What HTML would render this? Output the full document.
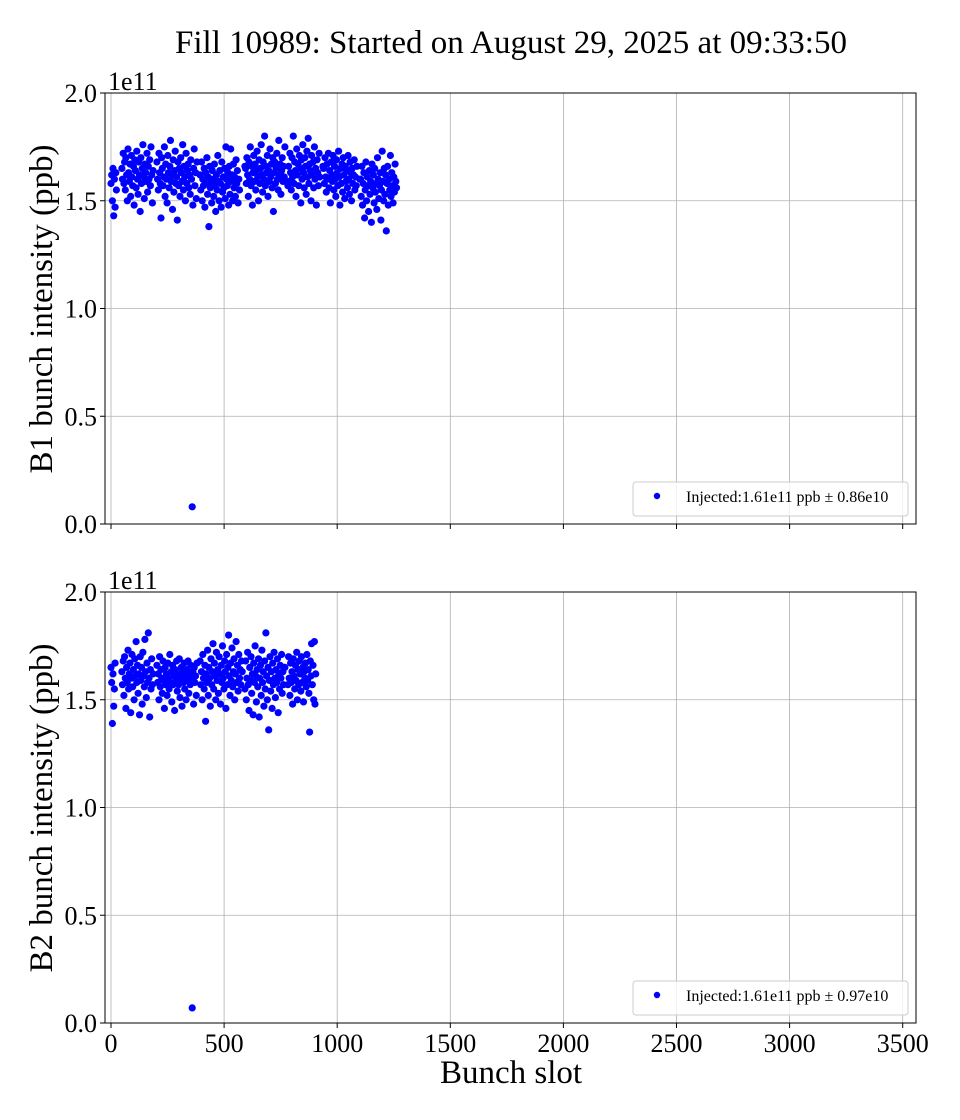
<!DOCTYPE html>
<html><head><meta charset="utf-8"><style>
body{margin:0;background:#fff;}
svg{display:block;font-family:"Liberation Serif",serif;}
</style></head><body>
<svg id="chart" width="960" height="1120" viewBox="0 0 960 1120">
<text x="511" y="53" text-anchor="middle" font-size="33">Fill 10989: Started on August 29, 2025 at 09:33:50</text>
<g id="p1"></g>
<g id="p2"></g>
<text x="511" y="1083" text-anchor="middle" font-size="33">Bunch slot</text>
</svg>
<script>
const xTicks=[0,500,1000,1500,2000,2500,3000,3500];
const yTicks=[0,50,100,150,200];
const yTickLabels=["0.0","0.5","1.0","1.5","2.0"];
// train definitions (slot start, slot end)
const b1TrainStart=[0,48,203,394,592,782,937,1100];
const b1TrainEnd=[24,186,380,570,770,924,1087,1262];
const b2TrainStart=[0,48,203,394,592,782];
const b2TrainEnd=[18,186,380,580,770,910];
// intensities in units of 1e9 ppb
const b1Values=[158,162,150,165,143,160,147,163,155,
165,160,172,158,168,155,170,162,150,174,163,159,167,152,171,161,157,166,148,169,164,156,173,160,153,168,162,145,170,158,165,176,161,151,167,163,159,172,154,166,160,169,157,175,162,149,164,
168,160,155,172,163,158,142,170,165,157,161,175,152,167,160,149,171,163,156,166,178,159,162,146,169,154,164,173,158,161,141,168,157,165,152,170,163,159,176,155,166,161,150,172,158,164,167,156,162,153,169,160,8,148,165,174,157,163,151,168,
162,155,168,150,160,157,165,147,163,158,170,153,161,138,166,156,159,149,164,160,152,167,157,145,162,155,171,159,150,164,158,147,168,154,161,156,165,151,175,160,157,163,148,166,153,174,159,162,150,167,156,161,152,169,158,164,149,160,155,166,
165,158,170,162,152,168,160,175,157,166,148,163,171,159,167,155,164,173,161,150,169,158,165,176,162,154,168,160,180,157,166,163,171,152,164,159,174,161,167,156,170,145,163,168,158,165,172,160,155,178,162,167,153,164,170,159,166,161,175,157,
166,159,172,163,155,170,161,180,158,168,164,152,174,162,167,157,171,165,149,169,160,176,163,156,170,166,153,173,161,179,158,167,164,150,171,162,168,156,175,160,165,148,169,163,157,172,161,166,
165,158,170,161,154,167,160,172,156,164,149,168,162,159,171,155,166,160,152,169,163,157,173,161,148,165,158,167,154,170,162,151,166,159,164,156,171,160,153,168,163,150,165,158,162,169,155,161,157,166,160,
160,152,166,148,158,163,142,155,168,150,161,157,145,164,153,159,140,167,156,162,149,165,154,158,146,170,160,151,157,163,141,155,173,159,150,165,153,162,136,158,166,148,160,155,171,152,163,157,149,161,154,167,159,156,164];
const b2Values=[165,158,139,162,147,155,167,
163,157,168,152,170,160,146,165,158,173,155,162,167,144,160,171,156,164,150,169,161,177,158,166,153,162,143,170,159,165,148,172,161,156,178,163,151,167,158,181,160,142,164,155,169,157,162,
166,158,162,150,170,156,164,160,153,168,159,146,165,157,162,152,167,160,155,171,158,163,149,166,157,161,145,164,159,168,154,162,157,169,151,160,165,147,163,158,167,155,161,150,164,159,168,153,162,157,166,160,7,163,148,165,158,161,152,167,
168,157,163,150,171,160,155,166,140,162,158,173,152,165,160,147,169,157,163,176,155,167,161,150,172,159,164,153,170,162,148,166,158,175,160,155,168,163,146,171,157,165,180,161,152,167,159,174,156,163,169,150,162,177,158,166,154,171,160,164,157,168,
163,155,168,150,160,172,157,145,165,159,170,153,162,143,167,158,175,161,149,164,156,169,142,160,166,152,173,158,163,147,168,155,181,161,150,165,136,159,170,154,163,146,167,157,172,160,151,164,158,169,144,162,155,166,160,171,153,163,157,165,
165,157,170,160,152,167,158,163,148,169,161,155,166,159,172,150,164,157,168,162,154,170,158,165,149,163,160,167,156,171,159,164,153,135,168,161,176,157,166,150,177,148,162];
const b1Legend="Injected:1.61e11 ppb \u00b1 0.86e10";
const b2Legend="Injected:1.61e11 ppb \u00b1 0.97e10";

const NS="http://www.w3.org/2000/svg";
const L=105,R=916;
function xs(s){return 111+s*0.2262;}
function mk(tag,attrs,parent){const e=document.createElementNS(NS,tag);for(const k in attrs)e.setAttribute(k,attrs[k]);parent.appendChild(e);return e;}

function panel(g,top,starts,ends,values,ylabel,legend,showX,pfx){
  const bot=top+431;
  const ys=v=>bot-v/200*431;
  for(const t of xTicks){
    const ln=mk('line',{x1:xs(t),x2:xs(t),y1:top,y2:bot,stroke:'#b0b0b0','stroke-width':0.8},g);
    
    
    const tk=mk('line',{x1:xs(t),x2:xs(t),y1:bot,y2:bot+5,stroke:'#000','stroke-width':1},g);
    
    
    if(showX){
      const tx=mk('text',{x:xs(t),y:bot+29,'text-anchor':'middle','font-size':26},g);
      tx.textContent=t;
      
      
    }
  }
  yTicks.forEach((t,i)=>{
    const ln=mk('line',{x1:L,x2:R,y1:ys(t),y2:ys(t),stroke:'#b0b0b0','stroke-width':0.8},g);
    
    
    const tk=mk('line',{x1:L-5,x2:L,y1:ys(t),y2:ys(t),stroke:'#000','stroke-width':1},g);
    
    
    const tx=mk('text',{x:L-8,y:ys(t)+9,'text-anchor':'end','font-size':26},g);
    tx.textContent=yTickLabels[i];
    
    
  });
  const off=mk('text',{x:108,y:top-3,'font-size':26},g);
  off.textContent='1e11';
  
  
  const yl=mk('text',{x:0,y:0,'text-anchor':'middle','font-size':33,transform:`translate(52,${top+216}) rotate(-90)`},g);
  yl.textContent=ylabel;
  
  
  let idx=0;
  for(let t=0;t<starts.length;t++){
    for(let s=starts[t];s<=ends[t]&&idx<values.length;s+=3){
      const c=mk('circle',{cx:xs(s).toFixed(1),cy:ys(values[idx]).toFixed(1),r:3.6,fill:'#0000ff'},g);
      
      
      idx++;
    }
  }
  const fr=mk('rect',{x:L,y:top,width:R-L,height:431,fill:'none',stroke:'#000','stroke-width':1},g);
  
  
  const lg=mk('g',{},g);
  
  
  mk('rect',{x:633,y:bot-42,width:275,height:34,rx:3,fill:'#fff','fill-opacity':0.8,stroke:'#ccc','stroke-width':1},lg);
  mk('circle',{cx:657,cy:bot-28,r:3.2,fill:'#0000ff'},lg);
  const lt=mk('text',{x:686,y:bot-22,'font-size':16},lg);
  lt.textContent=legend;
  
  
}
panel(document.getElementById('p1'),93,b1TrainStart,b1TrainEnd,b1Values,'B1 bunch intensity (ppb)',b1Legend,false,'b1-');
panel(document.getElementById('p2'),592,b2TrainStart,b2TrainEnd,b2Values,'B2 bunch intensity (ppb)',b2Legend,true,'b2-');
</script>
</body></html>
